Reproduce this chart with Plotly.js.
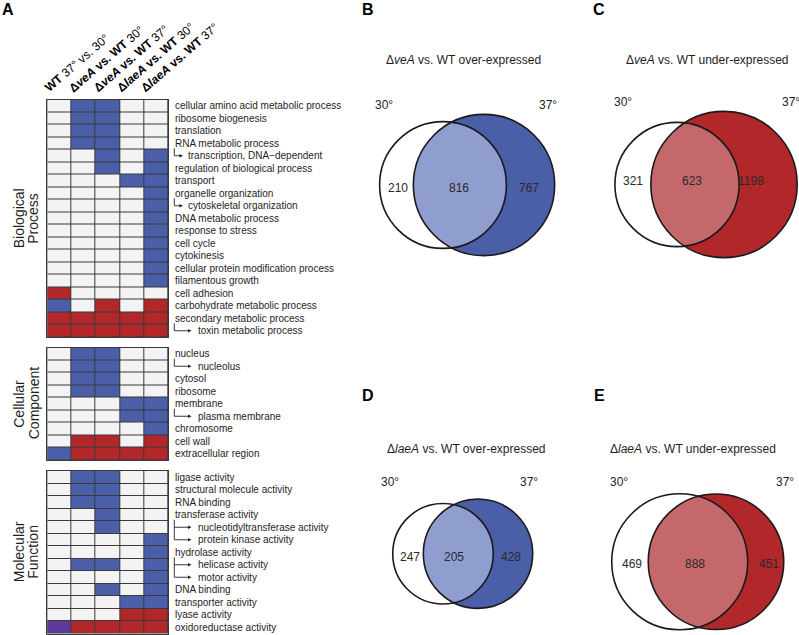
<!DOCTYPE html>
<html><head><meta charset="utf-8">
<script src="https://cdn.plot.ly/plotly-3.0.1.min.js"></script>
<style>html,body{margin:0;padding:0;background:#fff}#chart{width:799px;height:635px}</style>
</head><body><div id="chart"></div>
<script>
// ---------------- DATA ----------------
const columnLabels = [
  '<b>WT</b> 37° vs. 30°',
  '<b>Δ<i>veA</i> vs. WT</b> 30°',
  '<b>Δ<i>veA</i> vs. WT</b> 37°',
  '<b>Δ<i>laeA</i> vs. WT</b> 30°',
  '<b>Δ<i>laeA</i> vs. WT</b> 37°'
];
// cell codes: 0 = not enriched, 1 = over-expressed (blue), 2 = under-expressed (red), 3 = both (purple)
const bpTerms = [
  'cellular amino acid metabolic process','ribosome biogenesis','translation','RNA metabolic process',
  'transcription, DNA\u2212dependent','regulation of biological process','transport','organelle organization',
  'cytoskeletal organization','DNA metabolic process','response to stress','cell cycle','cytokinesis',
  'cellular protein modification process','filamentous growth','cell adhesion','carbohydrate metabolic process',
  'secondary metabolic process','toxin metabolic process'
];
const bpCells = [
  [0,1,1,0,0],[0,1,1,0,0],[0,1,1,0,0],[0,1,1,0,0],
  [0,0,1,0,1],[0,0,1,0,1],[0,0,0,1,1],[0,0,0,0,1],
  [0,0,0,0,1],[0,0,0,0,1],[0,0,0,0,1],[0,0,0,0,1],[0,0,0,0,1],
  [0,0,0,0,1],[0,0,0,0,1],[2,0,0,0,0],[1,0,2,0,2],
  [2,2,2,2,2],[2,2,2,2,2]
];
const ccTerms = ['nucleus','nucleolus','cytosol','ribosome','membrane','plasma membrane','chromosome','cell wall','extracellular region'];
const ccCells = [
  [0,1,1,0,0],[0,1,1,0,0],[0,1,1,0,0],[0,1,1,0,0],
  [0,0,0,1,1],[0,0,0,1,1],[0,0,0,0,1],[0,2,2,0,2],[1,2,2,2,2]
];
const mfTerms = [
  'ligase activity','structural molecule activity','RNA binding','transferase activity',
  'nucleotidyltransferase activity','protein kinase activity','hydrolase activity','helicase activity',
  'motor activity','DNA binding','transporter activity','lyase activity','oxidoreductase activity'
];
const mfCells = [
  [0,1,1,0,0],[0,1,1,0,0],[0,1,1,0,0],[0,0,1,0,0],
  [0,0,1,0,0],[0,0,0,0,1],[0,0,0,0,1],[0,1,1,0,1],
  [0,0,0,0,1],[0,0,1,0,1],[0,0,0,1,1],[0,0,0,2,2],[3,2,2,2,2]
];
const sectionNames = [['Biological','Process'],['Cellular','Component'],['Molecular','Function']];

// Venn counts: [30° only, shared, 37° only]
const vennBCounts = [210, 816, 767];
const vennCCounts = [321, 623, 1198];
const vennDCounts = [247, 205, 428];
const vennECounts = [469, 888, 451];
const vennTitles = [
  'Δ<i>veA</i> vs. WT over-expressed',
  'Δ<i>veA</i> vs. WT under-expressed',
  'Δ<i>laeA</i> vs. WT over-expressed',
  'Δ<i>laeA</i> vs. WT under-expressed'
];
const tempLabels = ['30°', '37°'];

// ---------------- STYLE / LAYOUT ----------------
const W = 799, H = 635;
const PX = x => x / W, PY = y => 1 - y / H;
const FONT = 'Liberation Sans, Arial, sans-serif';
const BLUE = '#4b5ea8', BLUE_L = '#8f9dcf', RED = '#b2272a', RED_L = '#c4686b';
const EMPTY = '#f3f3f3', PURPLE = '#5b3a9b', GRID = '#3a3a3a', INK = '#1e1e1e';

const gridLeft = 47.3, gridRight = 168.3, rowH = 12.5;
const colW = (gridRight - gridLeft) / 5;
const sections = [
  {terms: bpTerms, cells: bpCells, top: 99.5, s: ''},
  {terms: ccTerms, cells: ccCells, top: 347.5, s: '2'},
  {terms: mfTerms, cells: mfCells, top: 471, s: '3'}
];
// sub-term arrows: [section, parentIndex, [childIndices], short?]
const arrowGroups = [
  [0, 3, [4], true], [0, 7, [8], true], [0, 17, [18], false],
  [1, 0, [1], false], [1, 4, [5], false],
  [2, 3, [4, 5], false], [2, 6, [7, 8], false]
];

const traces = [];
const annotations = [];
const shapes = [];
const layout = {
  width: W, height: H, margin: {l: 0, r: 0, t: 0, b: 0},
  paper_bgcolor: '#ffffff', plot_bgcolor: GRID, showlegend: false,
  font: {family: FONT, color: INK},
  annotations, shapes
};

const colorscale = [[0, EMPTY], [0.25, EMPTY], [0.25, BLUE], [0.5, BLUE], [0.5, RED], [0.75, RED], [0.75, PURPLE], [1, PURPLE]];

sections.forEach((sec, si) => {
  const n = sec.terms.length;
  const bottom = sec.top + n * rowH;
  traces.push({
    type: 'heatmap', x: [0, 1, 2, 3, 4], y: sec.terms, z: sec.cells,
    xaxis: 'x' + sec.s, yaxis: 'y' + sec.s,
    colorscale, zmin: -0.5, zmax: 3.5, showscale: false, xgap: 1, ygap: 1, hoverinfo: 'skip'
  });
  layout['xaxis' + sec.s] = {
    domain: [PX(gridLeft), PX(gridRight)], range: [-0.5, 4.5], anchor: 'y' + sec.s,
    showticklabels: false, ticks: '', showgrid: false, zeroline: false,
    showline: true, mirror: true, linecolor: GRID, linewidth: 1, fixedrange: true
  };
  layout['yaxis' + sec.s] = {
    domain: [PY(bottom), PY(sec.top)], type: 'category', range: [n - 0.5, -0.5], anchor: 'x' + sec.s,
    showticklabels: false, ticks: '', showgrid: false, zeroline: false,
    showline: true, mirror: true, linecolor: GRID, linewidth: 1, fixedrange: true
  };
  const indent = {};
  arrowGroups.filter(g => g[0] === si).forEach(g => g[2].forEach(c => indent[c] = g[3] ? 185.5 : 195.5));
  sec.terms.forEach((t, i) => {
    annotations.push({
      text: t, xref: 'paper', yref: 'y' + sec.s, x: PX(indent[i] || 172.5), y: i,
      xanchor: 'left', yanchor: 'middle', showarrow: false,
      font: {size: 10, color: INK, family: FONT}
    });
  });
  const cy = (sec.top + bottom) / 2;
  [19, 33.5].forEach((x, li) => {
    annotations.push({
      text: sectionNames[si][li], xref: 'paper', yref: 'paper', x: PX(x), y: PY(cy),
      xanchor: 'center', yanchor: 'middle', textangle: -90, showarrow: false,
      font: {size: 14, color: INK, family: FONT}
    });
  });
});

const lineStyle = {color: '#222', width: 0.9};
arrowGroups.forEach(([si, parent, kids, short]) => {
  const sec = sections[si];
  const rc = i => sec.top + (i + 0.5) * rowH;
  const vx = 174.3, tip = short ? 183 : 191.5;
  const yTop = rc(parent) + 5;
  const yBot = rc(kids[kids.length - 1]);
  shapes.push({type: 'line', xref: 'paper', yref: 'paper', x0: PX(vx), x1: PX(vx), y0: PY(yTop), y1: PY(yBot), line: lineStyle});
  kids.forEach(k => {
    const y = rc(k);
    shapes.push({type: 'line', xref: 'paper', yref: 'paper', x0: PX(vx), x1: PX(tip - 2), y0: PY(y), y1: PY(y), line: lineStyle});
    shapes.push({type: 'path', xref: 'paper', yref: 'paper',
      path: `M${PX(tip)},${PY(y)} L${PX(tip - 3.5)},${PY(y - 1.8)} L${PX(tip - 3.5)},${PY(y + 1.8)} Z`,
      fillcolor: '#222', line: {width: 0}});
  });
});

// column headers (rotated)
columnLabels.forEach((lab, i) => {
  annotations.push({
    text: lab, xref: 'paper', yref: 'paper', x: PX(gridLeft + i * colW - 8), y: PY(97.5),
    xanchor: 'left', yanchor: 'bottom', textangle: -41, showarrow: false,
    font: {size: 12, color: '#000', family: FONT}
  });
});

const letters = [['A', 8, 10], ['B', 368, 9], ['C', 599, 9], ['D', 368, 395], ['E', 599, 395]];
letters.forEach(([t, x, y]) => annotations.push({
  text: '<b>' + t + '</b>', xref: 'paper', yref: 'paper', x: PX(x), y: PY(y),
  xanchor: 'center', yanchor: 'middle', showarrow: false, font: {size: 16, color: '#000', family: FONT}
}));

// ---------------- VENN DIAGRAMS ----------------
const vennPanels = [
  {counts: vennBCounts, dark: BLUE, light: BLUE_L, k: 11.2, c1x: 443, c2x: 484, cy: 185, titleX: 463.3, titleY: 60, degY: 105, degX: [384, 547.5], numX: [398.3, 459, 529], numY: 188},
  {counts: vennCCounts, dark: RED, light: RED_L, k: 11.2, c1x: 677, c2x: 724, cy: 184.5, titleX: 707.5, titleY: 60, degY: 102, degX: [623, 791], numX: [633.3, 691.7, 751], numY: 181},
  {counts: vennDCounts, dark: BLUE, light: BLUE_L, k: 10.9, c1x: 443, c2x: 478, cy: 553.7, titleX: 466.3, titleY: 449, degY: 481.7, degX: [390, 528.7], numX: [410, 454, 510.7], numY: 556.7},
  {counts: vennECounts, dark: RED, light: RED_L, k: 11.2, c1x: 679.7, c2x: 716, cy: 561.8, titleX: 692.7, titleY: 449, degY: 481.7, degX: [619, 785], numX: [632.3, 695, 769.3], numY: 564}
];

function circleShape(cx, cy, r, fill, line) {
  return {type: 'circle', xref: 'paper', yref: 'paper',
    x0: PX(cx - r), x1: PX(cx + r), y0: PY(cy + r), y1: PY(cy - r),
    fillcolor: fill, line: line};
}
function lensPath(x1, y1, r1, x2, y2, r2) {
  const d = Math.hypot(x2 - x1, y2 - y1);
  const phi = Math.atan2(y2 - y1, x2 - x1);
  const a1 = Math.acos((d * d + r1 * r1 - r2 * r2) / (2 * d * r1));
  const a2 = Math.acos((d * d + r2 * r2 - r1 * r1) / (2 * d * r2));
  const pts = [];
  const N = 90;
  for (let i = 0; i <= N; i++) {
    const a = phi - a1 + (2 * a1 * i) / N;
    pts.push([x1 + r1 * Math.cos(a), y1 + r1 * Math.sin(a)]);
  }
  for (let i = 0; i <= N; i++) {
    const a = phi + Math.PI - a2 + (2 * a2 * i) / N;
    pts.push([x2 + r2 * Math.cos(a), y2 + r2 * Math.sin(a)]);
  }
  return 'M' + pts.map(p => PX(p[0]) + ',' + PY(p[1])).join(' L') + ' Z';
}

vennPanels.forEach((vp, pi) => {
  const [only30, shared, only37] = vp.counts;
  const r1 = vp.k * Math.pow(only30 + shared, 0.25);
  const r2 = vp.k * Math.pow(only37 + shared, 0.25);
  const outline = {color: '#1a1a1a', width: 1.6};
  shapes.push(circleShape(vp.c2x, vp.cy, r2, vp.dark, {width: 0}));
  shapes.push({type: 'path', xref: 'paper', yref: 'paper', path: lensPath(vp.c1x, vp.cy, r1, vp.c2x, vp.cy, r2), fillcolor: vp.light, line: {width: 0}});
  shapes.push(circleShape(vp.c1x, vp.cy, r1, 'rgba(0,0,0,0)', outline));
  shapes.push(circleShape(vp.c2x, vp.cy, r2, 'rgba(0,0,0,0)', outline));

  annotations.push({text: vennTitles[pi], xref: 'paper', yref: 'paper', x: PX(vp.titleX), y: PY(vp.titleY),
    xanchor: 'center', yanchor: 'middle', showarrow: false, font: {size: 12, color: INK, family: FONT}});
  tempLabels.forEach((t, ti) => annotations.push({text: t, xref: 'paper', yref: 'paper', x: PX(vp.degX[ti]), y: PY(vp.degY),
    xanchor: 'center', yanchor: 'middle', showarrow: false, font: {size: 12, color: INK, family: FONT}}));
  vp.counts.forEach((c, ci) => annotations.push({text: String(c), xref: 'paper', yref: 'paper', x: PX(vp.numX[ci]), y: PY(vp.numY),
    xanchor: 'center', yanchor: 'middle', showarrow: false, font: {size: 12, color: '#2a2a2a', family: FONT}}));
});

Plotly.newPlot('chart', traces, layout, {staticPlot: true, displayModeBar: false});
</script></body></html>
